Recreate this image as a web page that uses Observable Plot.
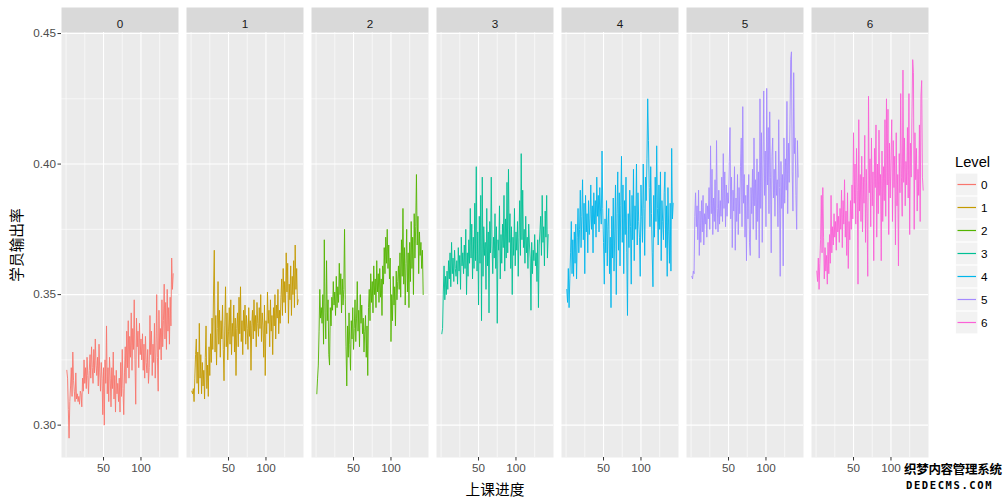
<!DOCTYPE html>
<html>
<head>
<meta charset="utf-8">
<script src="https://cdn.jsdelivr.net/npm/d3@7"></script>
<script src="https://cdn.jsdelivr.net/npm/@observablehq/plot@0.6"></script>
<style>
  html, body { margin: 0; padding: 0; background: #fff; }
  #wrap { position: relative; width: 1004px; height: 502px; overflow: hidden;
          font-family: "Liberation Sans", Arial, "Noto Sans CJK SC", sans-serif; }
  #chart { position: absolute; left: 0; top: 0; }
  .title { position: absolute; font-size: 14.7px; color: #000; white-space: nowrap;
           font-family: "Noto Sans CJK SC", "Liberation Sans", sans-serif; }
  #ytitle { left: 15px; top: 245px; transform: translate(-50%, -50%) rotate(-90deg); }
  #xtitle { left: 495px; top: 488px; transform: translate(-50%, -50%); }
  #legend { position: absolute; left: 955px; top: 152px; }
  #legend .lt { font-size: 14.7px; color: #000; height: 21px; line-height: 21px; }
  #legend .row { position: relative; height: 23px; width: 49px; }
  #legend svg { position: absolute; left: 0; top: 0; }
  #legend .lab { position: absolute; left: 26px; top: 0; line-height: 23px; font-size: 11.7px; color: #000; }
  #wm { position: absolute; left: 904px; top: 463px; font-family: "Noto Sans CJK SC", sans-serif; font-weight: bold;
        color: #000; text-shadow: 1px 0 #fff, -1px 0 #fff, 0 1px #fff, 0 -1px #fff; line-height: 1; }
  #wm .a { font-size: 12.5px; letter-spacing: -0.3px; }
  #wm .b { font-size: 10.5px; letter-spacing: 1.6px; margin-top: 4px; margin-left: 2px; font-family: "DejaVu Sans Mono", monospace; }
</style>
</head>
<body>
<div id="wrap">
  <div id="chart"></div>
  <div class="title" id="ytitle">学员输出率</div>
  <div class="title" id="xtitle">上课进度</div>
  <div id="legend"></div>
  <div id="wm"><div class="a">织梦内容管理系统</div><div class="b">DEDECMS.COM</div></div>
</div>
<script>
// ---- data ----
const levels = ["0", "1", "2", "3", "4", "5", "6"];
const levelColors = ["#F8766D", "#C49A00", "#53B400", "#00C094", "#00B6EB", "#A58AFF", "#FB61D7"];
const xTicks = [50, 100];
const xMinorTicks = [0, 25, 75, 125];
const yTicks = [0.30, 0.35, 0.40, 0.45];
const yMinorTicks = [0.325, 0.375, 0.425];

const lvl0 = [
  0.321, 0.318, 0.306, 0.295, 0.309, 0.315, 0.322, 0.311, 0.328, 0.317,
  0.313, 0.309, 0.320, 0.310, 0.312, 0.309, 0.311, 0.308, 0.313, 0.312,
  0.307, 0.318, 0.313, 0.325, 0.316, 0.322, 0.314, 0.326, 0.319, 0.312,
  0.321, 0.327, 0.318, 0.330, 0.322, 0.316, 0.329, 0.320, 0.333, 0.323,
  0.319, 0.326, 0.315, 0.331, 0.320, 0.313, 0.324, 0.318, 0.304, 0.322,
  0.300, 0.325, 0.316, 0.338, 0.312, 0.322, 0.309, 0.326, 0.318, 0.307,
  0.322, 0.314, 0.328, 0.310, 0.319, 0.305, 0.321, 0.312, 0.316, 0.309,
  0.318, 0.305, 0.324, 0.311, 0.329, 0.314, 0.304, 0.320, 0.330, 0.316,
  0.336, 0.322, 0.340, 0.318, 0.334, 0.326, 0.343, 0.321, 0.337, 0.329,
  0.348, 0.325, 0.308, 0.341, 0.330, 0.336, 0.322, 0.339, 0.327, 0.333,
  0.325, 0.335, 0.321, 0.331, 0.318, 0.334, 0.324, 0.320, 0.329, 0.316,
  0.322, 0.342, 0.327, 0.336, 0.319, 0.331, 0.324, 0.339, 0.318, 0.328,
  0.350, 0.326, 0.313, 0.344, 0.329, 0.337, 0.325, 0.348, 0.330, 0.340,
  0.354, 0.333, 0.347, 0.329, 0.352, 0.336, 0.345, 0.331, 0.349, 0.338, 0.364, 0.352, 0.358
];
const lvl1 = [
  0.313, 0.312, 0.314, 0.309, 0.318, 0.327, 0.333, 0.316, 0.328, 0.312,
  0.339, 0.318, 0.327, 0.312, 0.324, 0.315, 0.321, 0.310, 0.326, 0.338,
  0.314, 0.323, 0.311, 0.330, 0.319, 0.335, 0.324, 0.341, 0.329, 0.351,
  0.367, 0.328, 0.342, 0.323, 0.337, 0.355, 0.331, 0.344, 0.326, 0.340,
  0.333, 0.346, 0.329, 0.317, 0.338, 0.353, 0.330, 0.343, 0.325, 0.336,
  0.345, 0.331, 0.348, 0.327, 0.339, 0.334, 0.346, 0.328, 0.341, 0.319,
  0.337, 0.343, 0.330, 0.349, 0.335, 0.353, 0.332, 0.340, 0.327, 0.344,
  0.336, 0.346, 0.331, 0.342, 0.337, 0.329, 0.345, 0.334, 0.340, 0.321,
  0.338, 0.344, 0.333, 0.348, 0.336, 0.342, 0.330, 0.347, 0.339, 0.334,
  0.345, 0.337, 0.350, 0.332, 0.343, 0.338, 0.326, 0.346, 0.319, 0.340,
  0.335, 0.351, 0.339, 0.344, 0.330, 0.348, 0.336, 0.342, 0.327, 0.345,
  0.338, 0.350, 0.333, 0.346, 0.341, 0.352, 0.335, 0.344, 0.339, 0.349,
  0.356, 0.342, 0.360, 0.347, 0.355, 0.343, 0.366, 0.351, 0.362, 0.339,
  0.354, 0.348, 0.361, 0.342, 0.357, 0.350, 0.363, 0.345, 0.369, 0.352, 0.360, 0.346, 0.348
];
const lvl2 = [
  0.312, 0.318, 0.323, 0.336, 0.352, 0.341, 0.345, 0.339, 0.350, 0.331,
  0.371, 0.343, 0.333, 0.363, 0.340, 0.348, 0.327, 0.323, 0.345, 0.338,
  0.349, 0.344, 0.355, 0.346, 0.351, 0.342, 0.357, 0.345, 0.353, 0.347,
  0.362, 0.350, 0.358, 0.343, 0.356, 0.346, 0.352, 0.375, 0.348, 0.330,
  0.315, 0.338, 0.326, 0.343, 0.331, 0.321, 0.340, 0.333, 0.345, 0.329,
  0.337, 0.348, 0.332, 0.341, 0.355, 0.336, 0.344, 0.330, 0.350, 0.339,
  0.346, 0.335, 0.341, 0.328, 0.336, 0.342, 0.326, 0.338, 0.319, 0.345,
  0.352, 0.340, 0.358, 0.347, 0.355, 0.343, 0.361, 0.350, 0.356, 0.345,
  0.363, 0.351, 0.358, 0.347, 0.360, 0.349, 0.356, 0.342, 0.361, 0.354,
  0.368, 0.358, 0.372, 0.362, 0.375, 0.360, 0.369, 0.356, 0.364, 0.332,
  0.350, 0.340, 0.357, 0.346, 0.353, 0.338, 0.359, 0.348, 0.355, 0.361,
  0.352, 0.366, 0.349, 0.371, 0.357, 0.383, 0.354, 0.368, 0.346, 0.362,
  0.375, 0.351, 0.366, 0.345, 0.370, 0.355, 0.378, 0.360, 0.372, 0.350,
  0.381, 0.364, 0.376, 0.396, 0.369, 0.380, 0.358, 0.374, 0.365, 0.370, 0.360, 0.367, 0.350
];
const lvl3 = [
  0.335, 0.337, 0.351, 0.361, 0.348, 0.357, 0.350, 0.359, 0.352, 0.363,
  0.356, 0.366, 0.353, 0.370, 0.358, 0.364, 0.355, 0.367, 0.360, 0.357,
  0.363, 0.354, 0.368, 0.359, 0.365, 0.352, 0.372, 0.361, 0.366, 0.358,
  0.369, 0.360, 0.375, 0.350, 0.366, 0.357, 0.371, 0.362, 0.383, 0.364,
  0.377, 0.356, 0.372, 0.360, 0.385, 0.363, 0.399, 0.359, 0.374, 0.346,
  0.380, 0.362, 0.388, 0.340, 0.395, 0.357, 0.376, 0.365, 0.370, 0.352,
  0.383, 0.361, 0.374, 0.343, 0.378, 0.366, 0.395, 0.369, 0.358, 0.372,
  0.364, 0.381, 0.360, 0.376, 0.339, 0.371, 0.367, 0.384, 0.356, 0.373,
  0.362, 0.377, 0.368, 0.388, 0.359, 0.379, 0.364, 0.393, 0.366, 0.398,
  0.370, 0.381, 0.360, 0.376, 0.350, 0.372, 0.365, 0.383, 0.361, 0.374,
  0.367, 0.378, 0.357, 0.372, 0.386, 0.365, 0.404, 0.371, 0.390, 0.368,
  0.375, 0.362, 0.380, 0.366, 0.372, 0.360, 0.377, 0.369, 0.364, 0.344,
  0.370, 0.358, 0.367, 0.363, 0.373, 0.361, 0.366, 0.355, 0.371, 0.345,
  0.369, 0.374, 0.380, 0.365, 0.388, 0.370, 0.376, 0.361, 0.382, 0.372, 0.388, 0.364, 0.373
];
const lvl4 = [
  0.352, 0.347, 0.360, 0.345, 0.356, 0.366, 0.378, 0.358, 0.371, 0.357,
  0.374, 0.362, 0.377, 0.356, 0.372, 0.383, 0.366, 0.375, 0.390, 0.368,
  0.380, 0.394, 0.371, 0.385, 0.358, 0.388, 0.374, 0.381, 0.366, 0.386,
  0.373, 0.379, 0.392, 0.375, 0.384, 0.366, 0.389, 0.377, 0.386, 0.372,
  0.395, 0.380, 0.388, 0.374, 0.391, 0.382, 0.377, 0.405, 0.383, 0.370,
  0.354, 0.379, 0.366, 0.386, 0.361, 0.376, 0.383, 0.358, 0.372, 0.345,
  0.380, 0.364, 0.387, 0.359, 0.374, 0.392, 0.350, 0.381, 0.397, 0.367,
  0.389, 0.361, 0.384, 0.403, 0.370, 0.392, 0.358, 0.386, 0.373, 0.395,
  0.366, 0.342, 0.381, 0.368, 0.390, 0.376, 0.354, 0.388, 0.371, 0.398,
  0.363, 0.384, 0.375, 0.400, 0.369, 0.389, 0.378, 0.372, 0.357, 0.392,
  0.380, 0.370, 0.400, 0.383, 0.365, 0.395, 0.386, 0.402, 0.425, 0.409,
  0.391, 0.376, 0.399, 0.381, 0.366, 0.353, 0.388, 0.372, 0.395, 0.378,
  0.407, 0.383, 0.369, 0.392, 0.375, 0.397, 0.363, 0.386, 0.378, 0.371,
  0.389, 0.397, 0.368, 0.384, 0.357, 0.391, 0.374, 0.362, 0.385, 0.359, 0.406, 0.379, 0.385
];
const lvl5 = [
  0.357, 0.356, 0.359, 0.358, 0.380, 0.389, 0.376, 0.384, 0.371, 0.390,
  0.365, 0.382, 0.370, 0.386, 0.374, 0.388, 0.369, 0.381, 0.377, 0.385,
  0.372, 0.384, 0.379, 0.391, 0.375, 0.407, 0.381, 0.398, 0.373, 0.387,
  0.378, 0.394, 0.375, 0.409, 0.383, 0.374, 0.390, 0.377, 0.386, 0.380,
  0.395, 0.378, 0.404, 0.383, 0.397, 0.376, 0.392, 0.380, 0.389, 0.385,
  0.401, 0.414, 0.379, 0.395, 0.368, 0.390, 0.382, 0.399, 0.367, 0.387,
  0.378, 0.396, 0.373, 0.391, 0.381, 0.399, 0.410, 0.376, 0.422, 0.385,
  0.396, 0.372, 0.388, 0.363, 0.392, 0.379, 0.396, 0.370, 0.365, 0.391,
  0.381, 0.398, 0.375, 0.410, 0.384, 0.394, 0.371, 0.402, 0.378, 0.397,
  0.364, 0.425, 0.383, 0.412, 0.370, 0.400, 0.428, 0.388, 0.405, 0.376,
  0.429, 0.392, 0.414, 0.381, 0.420, 0.395, 0.366, 0.403, 0.410, 0.387,
  0.398, 0.380, 0.405, 0.388, 0.394, 0.376, 0.417, 0.391, 0.357, 0.401,
  0.383, 0.396, 0.361, 0.410, 0.385, 0.402, 0.390, 0.424, 0.381, 0.408,
  0.393, 0.415, 0.440, 0.443, 0.397, 0.382, 0.435, 0.404, 0.410, 0.388, 0.375, 0.409, 0.395
];
const lvl6 = [
  0.359, 0.355, 0.364, 0.352, 0.362, 0.371, 0.388, 0.366, 0.391, 0.372,
  0.356, 0.368, 0.359, 0.365, 0.354, 0.370, 0.358, 0.373, 0.362, 0.388,
  0.366, 0.376, 0.369, 0.381, 0.372, 0.378, 0.367, 0.385, 0.374, 0.380,
  0.370, 0.383, 0.375, 0.390, 0.368, 0.386, 0.377, 0.394, 0.372, 0.382,
  0.365, 0.389, 0.360, 0.378, 0.371, 0.386, 0.375, 0.392, 0.379, 0.412,
  0.385, 0.400, 0.377, 0.406, 0.390, 0.354, 0.417, 0.382, 0.396, 0.378,
  0.403, 0.374, 0.395, 0.385, 0.411, 0.370, 0.398, 0.381, 0.357, 0.426,
  0.389, 0.402, 0.376, 0.410, 0.384, 0.397, 0.363, 0.406, 0.391, 0.415,
  0.372, 0.400, 0.381, 0.413, 0.388, 0.396, 0.363, 0.405, 0.378, 0.399,
  0.386, 0.417, 0.380, 0.425, 0.392, 0.421, 0.373, 0.408, 0.387, 0.402,
  0.417, 0.378, 0.409, 0.391, 0.403, 0.369, 0.412, 0.384, 0.396, 0.361,
  0.404, 0.389, 0.427, 0.395, 0.380, 0.436, 0.393, 0.410, 0.384, 0.401,
  0.392, 0.414, 0.387, 0.427, 0.373, 0.408, 0.395, 0.418, 0.440, 0.435,
  0.375, 0.412, 0.394, 0.406, 0.382, 0.398, 0.388, 0.415, 0.378, 0.426, 0.432, 0.395, 0.390
];

const series = [lvl0, lvl1, lvl2, lvl3, lvl4, lvl5, lvl6];
const data = levels.flatMap((lv, i) => series[i].map((v, j) => ({level: lv, x: j + 1, v})));

// ggplot-style 5% expansion of continuous scales
const expand = ([a, b]) => { const r = b - a; return [a - 0.05 * r, b + 0.05 * r]; };
const xDomain = expand(d3.extent(data, d => d.x));
const yDomain = expand(d3.extent(data, d => d.v));

const FONT = '"Liberation Sans", Arial, "Noto Sans CJK SC", sans-serif';

const chart = Plot.plot({
  width: 1004,
  height: 502,
  marginLeft: 60,
  marginRight: 74.5,
  marginTop: 32,
  marginBottom: 45,
  style: {fontFamily: FONT, background: "transparent", overflow: "visible"},
  x: {domain: xDomain},
  y: {domain: yDomain},
  fx: {domain: levels, paddingInner: 0.0607, paddingOuter: 0, axis: null},
  color: {domain: levels, range: levelColors},
  marks: [
    Plot.frame({fill: "#EBEBEB", stroke: null}),
    Plot.frame({fill: "#D9D9D9", stroke: null, insetTop: -25, insetBottom: 425}),
    Plot.ruleX(xMinorTicks, {stroke: "#FFFFFF", strokeWidth: 0.6}),
    Plot.ruleY(yMinorTicks, {stroke: "#FFFFFF", strokeWidth: 0.6}),
    Plot.ruleX(xTicks, {stroke: "#FFFFFF", strokeWidth: 1.1}),
    Plot.ruleY(yTicks, {stroke: "#FFFFFF", strokeWidth: 1.1}),
    Plot.lineY(data, {x: "x", y: "v", fx: "level", stroke: "level", strokeWidth: 0.9}),
    Plot.text(levels, {fx: d => d, text: d => d, frameAnchor: "top", dy: -12.5, fontSize: 11.7, fill: "#1A1A1A"}),
    Plot.axisX({ticks: xTicks, tickSize: 3.5, tickPadding: 3, fontSize: 11.7, fill: "#4D4D4D", stroke: "#333333", label: null}),
    Plot.axisY({ticks: yTicks, tickFormat: d3.format(".2f"), tickSize: 3.5, tickPadding: 2, fontSize: 11.7, fill: "#4D4D4D", stroke: "#333333", label: null})
  ]
});
document.getElementById("chart").appendChild(chart);

// legend (keys drawn with the same colour scale as the lines)
const legend = document.getElementById("legend");
const lt = document.createElement("div");
lt.className = "lt";
lt.textContent = "Level";
legend.appendChild(lt);
const colorScale = chart.scale("color");
levels.forEach((lv) => {
  const c = d3.scaleOrdinal(colorScale.domain, colorScale.range)(lv);
  const row = document.createElement("div");
  row.className = "row";
  row.innerHTML =
    `<svg width="24" height="23"><rect x="0.75" y="0.25" width="22" height="22.5" fill="#F2F2F2" stroke="#FFFFFF" stroke-width="0.5"/>` +
    `<line x1="2.5" x2="21" y1="11.5" y2="11.5" stroke="${c}" stroke-width="1.2"/></svg>` +
    `<div class="lab">${lv}</div>`;
  legend.appendChild(row);
});
</script>
</body>
</html>
